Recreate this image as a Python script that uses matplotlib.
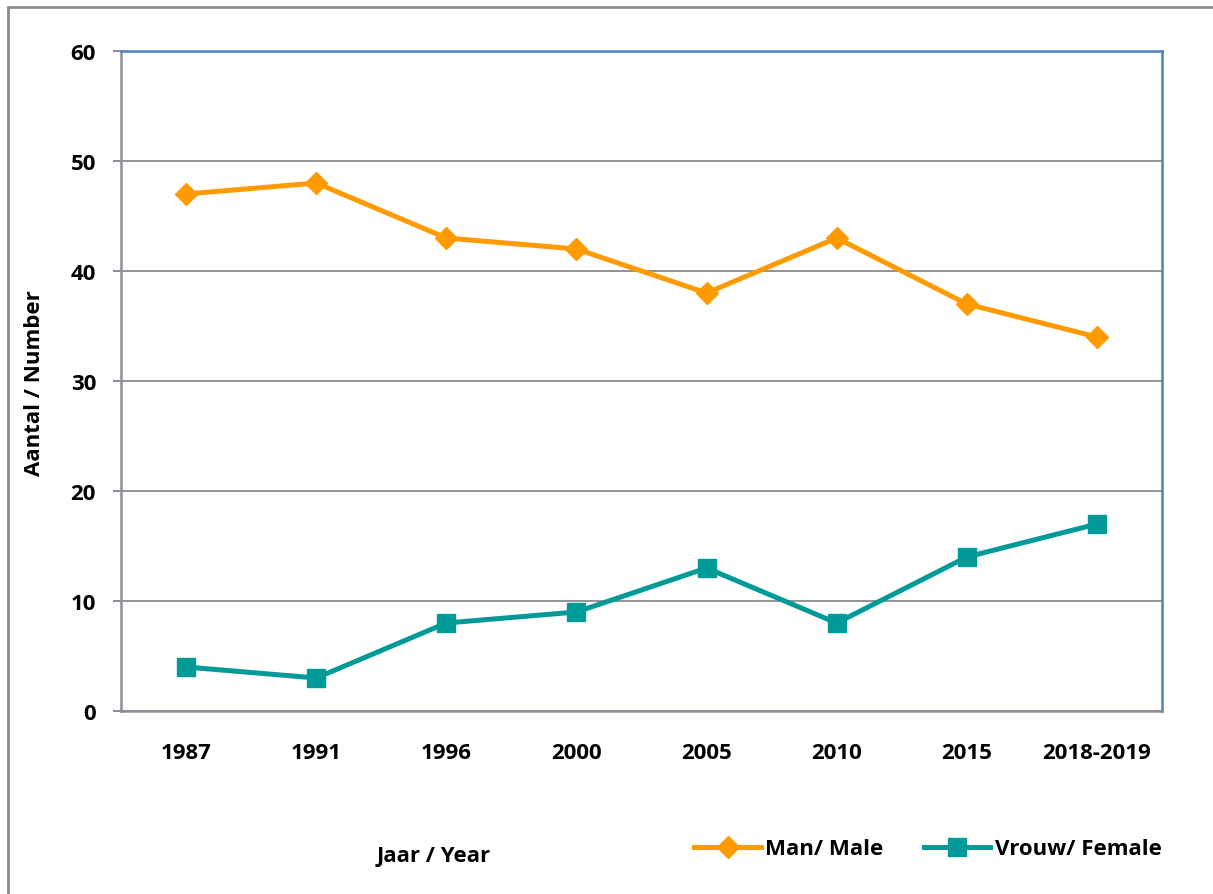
import matplotlib
matplotlib.use("Agg")
import matplotlib.pyplot as plt
from matplotlib.patches import Rectangle

years = ["1987", "1991", "1996", "2000", "2005", "2010", "2015", "2018-2019"]
male = [47, 48, 43, 42, 38, 43, 37, 34]
female = [4, 3, 8, 9, 13, 8, 14, 17]
y_ticks = [0, 10, 20, 30, 40, 50, 60]

plt.rcParams["font.family"] = ["Open Sans", "DejaVu Sans"]
plt.rcParams["font.weight"] = "bold"

W, H = 1213, 895
fig = plt.figure(figsize=(W / 100, H / 100), dpi=100)

# outer chart frame (runs off the right and bottom edge)
fig.patches.append(Rectangle((8 / W, -0.2), 1.5, 1.2 - 8 / H, transform=fig.transFigure,
                             fill=False, edgecolor="#8c8c8c", linewidth=2))

ax = fig.add_axes([121 / W, 1 - 712 / H, (1162 - 121) / W, (712 - 52) / H])
x = list(range(len(years)))

ax.plot(x, male, color="#FF9B00", linewidth=3.6, marker="D", markersize=11, label="Man/ Male")
ax.plot(x, female, color="#009A99", linewidth=3.6, marker="s", markersize=13, label="Vrouw/ Female")

ax.set_xlim(-0.5, len(years) - 0.5)
ax.set_ylim(0, 60)
ax.set_yticks(y_ticks)
ax.set_xticks(x)
ax.set_xticklabels(years)
ax.yaxis.grid(True, color="#8a8a8a", linewidth=1.3)
ax.set_axisbelow(True)

ax.tick_params(axis="y", length=6, width=1.5, color="#8a8f98", direction="out", pad=12, labelsize=16)
ax.tick_params(axis="x", length=0, pad=22, labelsize=16)
for lbl in ax.get_xticklabels() + ax.get_yticklabels():
    lbl.set_fontweight("bold")
ax.spines["left"].set_color("#8a8f98")
ax.spines["bottom"].set_color("#8a8f98")
ax.spines["top"].set_color("#4F81BD")
ax.spines["right"].set_color("#4F81BD")
for s in ax.spines.values():
    s.set_linewidth(1.8)

fig.text(35 / W, 1 - 383 / H, "Aantal / Number", rotation=90, ha="center", va="center",
         fontsize=16, fontweight="bold")
fig.text(434 / W, 1 - 857 / H, "Jaar / Year", ha="center", va="center",
         fontsize=16, fontweight="bold")

leg = fig.legend(loc="center", bbox_to_anchor=(928 / W, 1 - 850 / H), ncol=2, frameon=False,
                 handlelength=3.0, handletextpad=0.2, columnspacing=1.8,
                 prop={"weight": "bold", "size": 16})

fig.savefig("out.png", dpi=100, facecolor="white")
